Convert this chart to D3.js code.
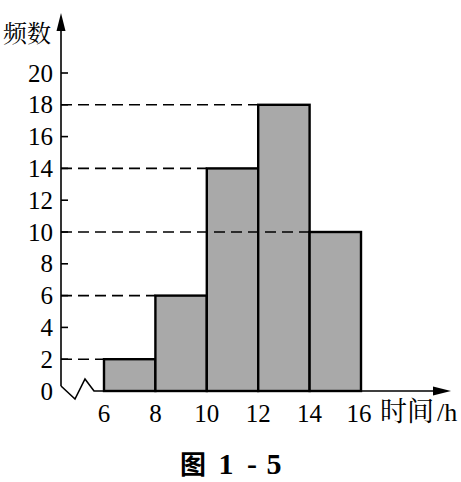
<!DOCTYPE html>
<html><head><meta charset="utf-8">
<script src="https://cdn.jsdelivr.net/npm/d3@7"></script>
<style>body{margin:0;background:#fff}svg{display:block}</style>
</head><body>
<svg id="c" width="461" height="482"></svg>
<script>
const binStarts = [6, 8, 10, 12, 14];
const binWidth = 2;
const freqs = [2, 6, 14, 18, 10];
const xTicks = [6, 8, 10, 12, 14, 16];
const yTicks = [0, 2, 4, 6, 8, 10, 12, 14, 16, 18, 20];
const yLabel = "频数";
const xLabelCjk = "时间";
const xLabelUnit = "/h";
const captionHead = "图";
const captionParts = ["1", "-", "5"];

const svg = d3.select("#c");
const x = d3.scaleLinear().domain([6, 16]).range([104, 361]);
const y = d3.scaleLinear().domain([0, 20]).range([391, 73]);
const ax = 61;
const serif = '"Liberation Serif", "Times New Roman", serif';
const cjkSerif = '"Noto Serif CJK SC", "Liberation Serif", serif';

// bars
svg.selectAll("rect.bar").data(binStarts).enter().append("rect")
  .attr("x", d => x(d)).attr("y", (d, i) => y(freqs[i]))
  .attr("width", d => x(d + binWidth) - x(d))
  .attr("height", (d, i) => y(0) - y(freqs[i]))
  .attr("fill", "#a9a9a9").attr("stroke", "#000").attr("stroke-width", 2.4);

// dashed guide lines
svg.selectAll("line.dash").data(binStarts).enter().append("line")
  .attr("x1", ax).attr("x2", d => x(d))
  .attr("y1", (d, i) => y(freqs[i])).attr("y2", (d, i) => y(freqs[i]))
  .attr("stroke", "#000").attr("stroke-width", 1.6).attr("stroke-dasharray", "11,6");

// y axis line
svg.append("line").attr("x1", ax).attr("x2", ax).attr("y1", 26).attr("y2", 386)
  .attr("stroke", "#000").attr("stroke-width", 1.6);
svg.append("path").attr("d", `M${ax},13 L${ax-4.5},31 L${ax+4.5},31 Z`).attr("fill", "#000");

// zigzag + x axis
svg.append("path")
  .attr("d", `M${ax},386 L75,399 L85,379 L94,391 L438,391`)
  .attr("fill", "none").attr("stroke", "#000").attr("stroke-width", 1.6);
svg.append("path").attr("d", `M451,391 L433,386.5 L433,395.5 Z`).attr("fill", "#000");

// y ticks
svg.selectAll("line.yt").data(yTicks.filter(d => d > 0)).enter().append("line")
  .attr("x1", ax).attr("x2", ax + 7).attr("y1", d => y(d)).attr("y2", d => y(d))
  .attr("stroke", "#000").attr("stroke-width", 1.6);
svg.selectAll("text.yl").data(yTicks).enter().append("text")
  .attr("x", 53).attr("y", d => y(d) + 8.5)
  .attr("text-anchor", "end").style("font-family", serif).attr("font-size", 25)
  .text(d => d);

// x labels
svg.selectAll("text.xl").data(xTicks).enter().append("text")
  .attr("x", d => x(d) - (d === 16 ? 2 : 0)).attr("y", 422)
  .attr("text-anchor", "middle").style("font-family", serif).attr("font-size", 25)
  .text(d => d);

const xl = svg.append("text").attr("x", 380).attr("y", 421);
xl.append("tspan").style("font-family", cjkSerif).attr("font-size", 27).text(xLabelCjk);
xl.append("tspan").style("font-family", serif).attr("font-size", 26).attr("dx", 3).text(xLabelUnit);

svg.append("text").attr("x", 51).attr("y", 42).attr("text-anchor", "end")
  .style("font-family", cjkSerif).attr("font-size", 24).text(yLabel);

// caption
svg.append("text").attr("x", 180).attr("y", 474)
  .style("font-family", '"Noto Sans CJK SC", sans-serif').attr("font-weight", "bold")
  .attr("font-size", 26).text(captionHead);
const capX = [226, 252, 274];
svg.selectAll("text.cap").data(captionParts).enter().append("text")
  .attr("x", (d, i) => capX[i]).attr("y", 474).attr("text-anchor", "middle")
  .style("font-family", serif).attr("font-weight", "bold")
  .attr("font-size", 30).text(d => d);
</script>
</body></html>
